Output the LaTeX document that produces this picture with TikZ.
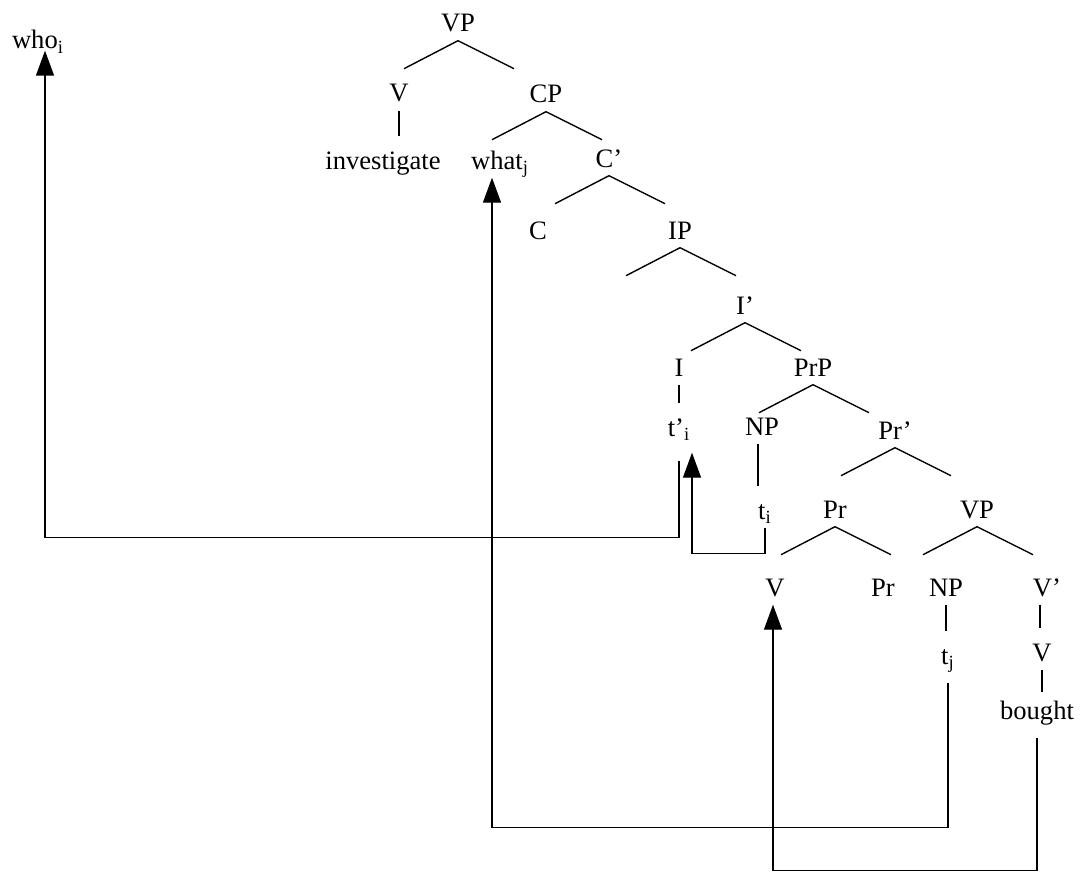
\documentclass[tikz,border=0pt]{standalone}
\usepackage{fontspec}
\setmainfont{Liberation Serif}
\usetikzlibrary{positioning,arrows.meta}

\begin{document}
\begin{tikzpicture}[
    x=0.5pt, y=-0.5pt,
    line width=0.7pt,
    every node/.style={font=\fontsize{13.3pt}{16pt}\selectfont, inner xsep=1pt, inner ysep=4pt, text height=9pt, text depth=0pt},
    stem/.style={shorten >=3pt},
    mv/.style={-{Triangle[length=12.5pt,width=9pt]}}
]
\useasboundingbox (0,0) rectangle (1085,872);
% tree
\node (who) at (38,40) {who\textsubscript{i}};
\node (VPa) at (458,23) {VP};
\node (Va) at (399,93) {V};
\node (CP) at (546,94) {CP};
\node (inv) at (383,160) {investigate};
\node (what) at (500,160) {what\textsubscript{j}};
\node (Cbar) at (609,158) {C’};
\node (C) at (538,230) {C};
\node (IP) at (680,230) {IP};
\node (Ibar) at (745,305) {I’};
\node (I) at (679,367) {I};
\node (PrP) at (813,367) {PrP};
\node (tpi) at (679,427) {t’\textsubscript{i}};
\node (NPa) at (762,426) {NP};
\node (Prbar) at (895,430) {Pr’};
\node (ti) at (765,510) {t\textsubscript{i}};
\node (Pr) at (835,509) {Pr};
\node (VPb) at (977,509) {VP};
\node (Vb) at (775,587) {V};
\node (Prb) at (883,587) {Pr};
\node (NPb) at (946,587) {NP};
\node (Vbar) at (1047,587) {V’};
\node (tj) at (948,655) {t\textsubscript{j}};
\node (Vc) at (1042,652) {V};
\node (bought) at (1037,710) {bought};
% branches
\foreach \p in {VPa,CP,Cbar,IP,Ibar,PrP,Prbar,Pr,VPb}
    \draw (\p.south) +(-54,28) -- (\p.south) -- +(56,28);
\draw[stem] (Va.south) -- (Va.south |- inv.north);
\draw[stem] (I.south) -- (I.south |- tpi.north);
\draw[stem] ([xshift=-2pt]NPa.south) -- ([xshift=-2pt]NPa.south |- ti.north);
\draw[stem] (NPb.south) -- (NPb.south |- tj.north);
\draw[stem] ([xshift=-3.5pt]Vbar.south) -- ([xshift=-3.5pt]Vbar.south |- Vc.north);
\draw (Vc.south) -- (Vc.south |- bought.north);
% movement
\draw[mv, shorten <=8pt, shorten >=-3.5pt] (tpi.south) -- ++(0,93) -| ([xshift=3.5pt]who.south);
\draw[mv, shorten >=4pt] (ti.south) -- ++(0,26) -| ([xshift=6.5pt]tpi.south);
\draw[mv, shorten <=5pt] (tj.south) -- ++(0,155) -| ([xshift=-4pt]what.south);
\draw[mv, shorten <=5pt] (bought.south) -- ++(0,143) -| ([xshift=-1pt]Vb.south);
\end{tikzpicture}
\end{document}
